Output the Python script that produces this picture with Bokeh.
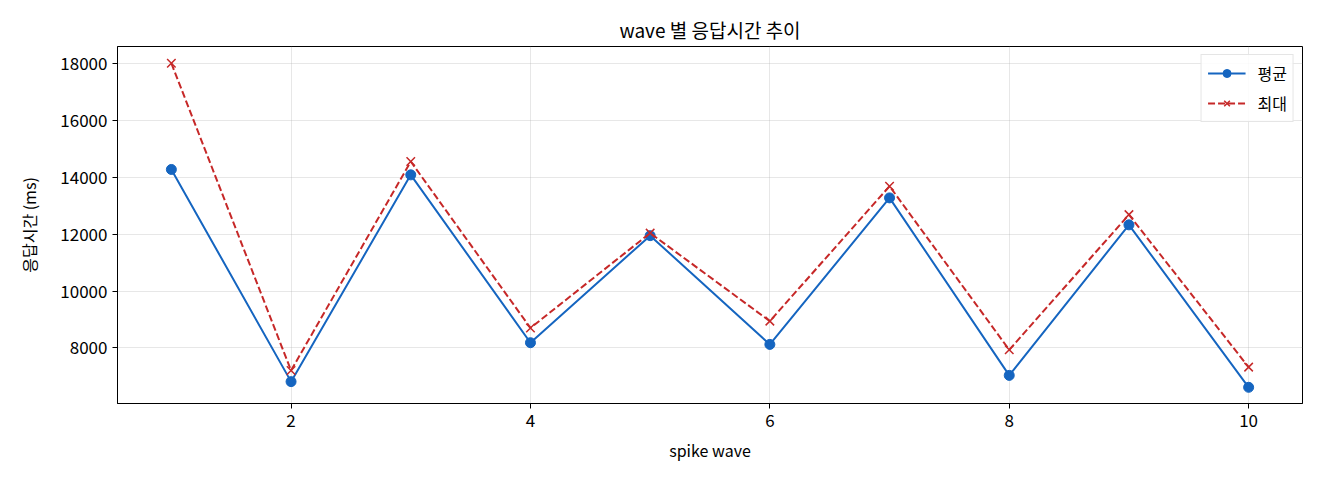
from bokeh.plotting import figure
from bokeh.models import Legend, LegendItem, SingleIntervalTicker, ColumnDataSource
from bokeh.embed import file_html
from bokeh.resources import INLINE

FONT = "Noto Sans CJK KR"

waves = [1, 2, 3, 4, 5, 6, 7, 8, 9, 10]
avg_ms = [14280, 6810, 14090, 8180, 11950, 8120, 13280, 7030, 12330, 6610]
max_ms = [18020, 7200, 14560, 8700, 12040, 8940, 13690, 7930, 12690, 7320]

BLUE = "#1565c0"
RED = "#c62828"

src = ColumnDataSource(dict(wave=waves, avg=avg_ms, mx=max_ms))

p = figure(width=1304, height=464, output_backend="svg", toolbar_location=None,
           x_range=(0.55, 10.45), y_range=(6040, 18610),
           title="wave 별 응답시간 추이",
           x_axis_label="spike wave", y_axis_label="응답시간 (ms)")
p.min_border_left = 117
p.min_border_right = 2
p.min_border_top = 46
p.min_border_bottom = 61

p.title.align = "center"
p.title.text_font = FONT
p.title.text_font_size = "19px"
p.title.text_font_style = "normal"
p.title.text_color = "black"
p.title.offset = 0
p.title.standoff = 8

p.outline_line_color = "black"
p.outline_line_width = 1
p.outline_line_alpha = 1

p.xaxis.ticker = SingleIntervalTicker(interval=2)
p.yaxis.ticker = SingleIntervalTicker(interval=2000)
for ax in p.axis:
    ax.axis_line_color = "black"
    ax.major_tick_line_color = "black"
    ax.major_tick_out = 5
    ax.major_tick_in = 0
    ax.minor_tick_line_color = None
    ax.major_label_text_font = FONT
    ax.major_label_text_font_size = "17px"
    ax.major_label_text_color = "black"
    ax.axis_label_text_font = FONT
    ax.axis_label_text_font_size = "16px"
    ax.axis_label_text_font_style = "normal"
    ax.axis_label_text_color = "black"
p.yaxis.major_label_orientation = "horizontal"
p.xaxis.axis_label_standoff = 8
p.yaxis.axis_label_standoff = 16

p.grid.grid_line_color = "#b0b0b0"
p.grid.grid_line_alpha = 0.3
p.grid.grid_line_width = 1

l1 = p.line("wave", "avg", source=src, color=BLUE, line_width=2)
m1 = p.scatter("wave", "avg", source=src, marker="circle", size=10, color=BLUE)
l2 = p.line("wave", "mx", source=src, color=RED, line_width=2, line_dash="7 3")
m2 = p.scatter("wave", "mx", source=src, marker="x", size=12, line_color=RED, line_width=1.5)

legend = Legend(items=[LegendItem(label="평균", renderers=[l1, m1]),
                       LegendItem(label="최대", renderers=[l2, m2])],
                location="top_right")
legend.margin = 8
legend.padding = 6
legend.spacing = 6
legend.glyph_width = 38
legend.label_standoff = 12
legend.label_text_font = FONT
legend.label_text_font_size = "16px"
legend.label_text_color = "black"
legend.border_line_color = "#cccccc"
legend.border_line_width = 1
legend.background_fill_alpha = 0.85
p.add_layout(legend)

open("out.html", "w").write(file_html(p, INLINE))
